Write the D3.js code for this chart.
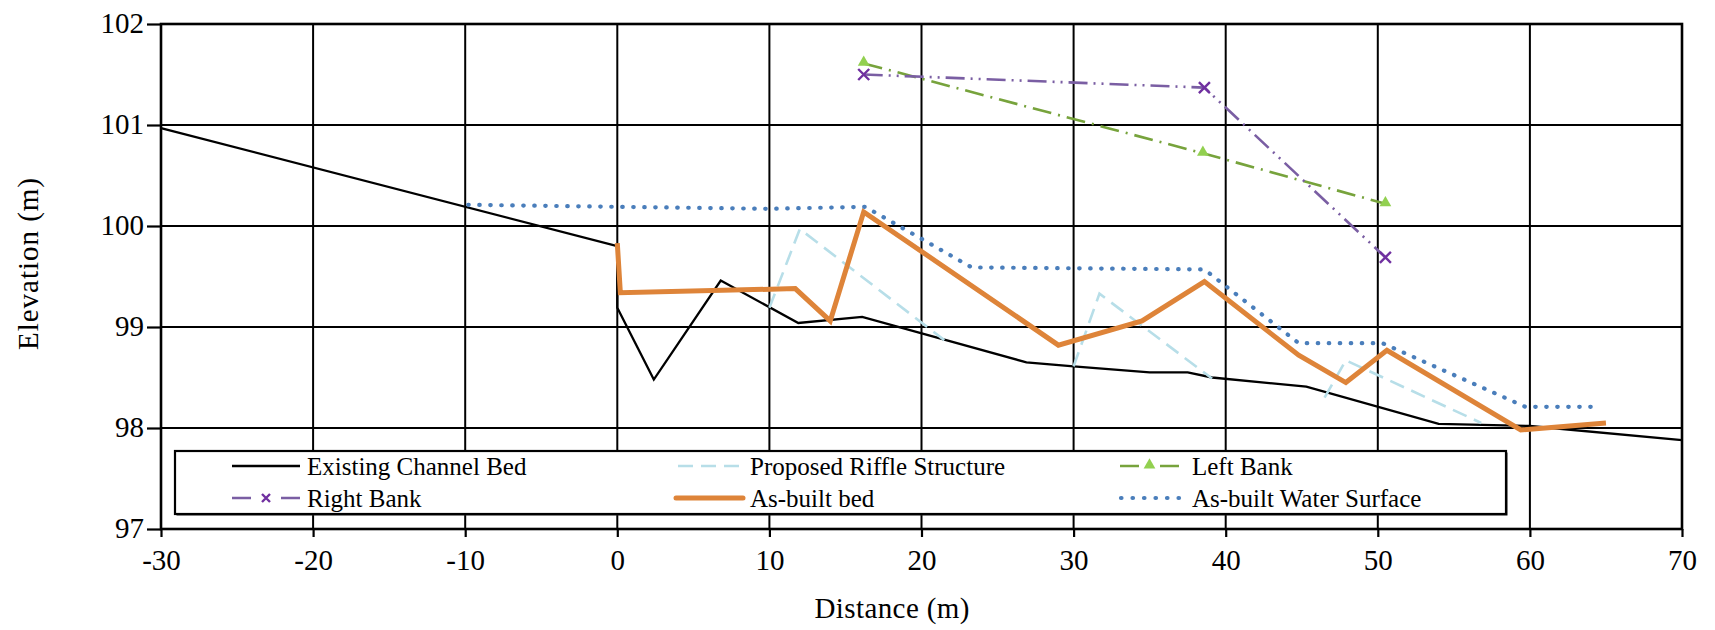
<!DOCTYPE html>
<html><head><meta charset="utf-8">
<script src="https://cdn.jsdelivr.net/npm/d3@7"></script>
<style>
html,body{margin:0;padding:0;background:#fff;}
text{font-family:"Liberation Serif","Times New Roman",serif;fill:#000;}
</style></head>
<body>
<svg id="chart" width="1715" height="630"></svg>
<script>
// ---- data ----
const xTicks = [-30,-20,-10,0,10,20,30,40,50,60,70];
const yTicks = [97,98,99,100,101,102];

const bedX = [-30, 0, 0, 2.4, 6.8, 11.9, 16.1, 26.9, 30, 35, 37.5, 39.1, 45.3, 54, 60, 70];
const bedY = [100.97, 99.8, 99.19, 98.48, 99.46, 99.04, 99.10, 98.65, 98.61, 98.55, 98.55, 98.50, 98.41, 98.04, 98.02, 97.88];

const riffleX = [10.0, 12.0, 21.5, null, 30.0, 31.7, 39.1, null, 46.5, 47.9, 56.8];
const riffleY = [99.19, 99.97, 98.87, null, 98.61, 99.33, 98.49, null, 98.30, 98.67, 98.05];

const leftX = [16.2, 38.5, 50.5];
const leftY = [101.61, 100.72, 100.22];

const rightX = [16.2, 38.6, 50.5];
const rightY = [101.50, 101.37, 99.69];

const asbuiltX = [0, 0.2, 11.7, 14.0, 16.2, 29.0, 34.5, 38.6, 44.8, 47.9, 50.6, 59.4, 65.0];
const asbuiltY = [99.83, 99.34, 99.38, 99.06, 100.14, 98.82, 99.06, 99.45, 98.72, 98.45, 98.77, 97.98, 98.05];

const waterX = [-9.8, 0, 10, 16.3, 23.3, 38.6, 44.8, 50.3, 59.7, 64.6];
const waterY = [100.21, 100.19, 100.17, 100.19, 99.59, 99.57, 98.84, 98.84, 98.21, 98.21];

const legendLabels = ["Existing Channel Bed","Proposed Riffle Structure","Left Bank","Right Bank","As-built bed","As-built Water Surface"];

// ---- layout ----
const svg = d3.select("#chart");
const L = 161, R = 1682, T = 24, B = 529;
const x = d3.scaleLinear().domain([-30,70]).range([L,R]);
const y = d3.scaleLinear().domain([97,102]).range([B,T]);

const zip = (xs, ys) => xs.map((v,i)=>({x:v, y:ys[i]}));
const line = d3.line().defined(d=>d.x!==null && d.y!==null).x(d=>x(d.x)).y(d=>y(d.y));

// grid
const g = svg.append("g");
g.selectAll(".vg").data(xTicks).join("line")
  .attr("x1",d=>x(d)).attr("x2",d=>x(d)).attr("y1",T).attr("y2",B)
  .attr("stroke","#000").attr("stroke-width",2);
g.selectAll(".hg").data(yTicks).join("line")
  .attr("x1",L).attr("x2",R).attr("y1",d=>y(d)).attr("y2",d=>y(d))
  .attr("stroke","#000").attr("stroke-width",2);
g.append("rect").attr("x",L).attr("y",T).attr("width",R-L).attr("height",B-T)
  .attr("fill","none").attr("stroke","#000").attr("stroke-width",2.6);

// axes with d3
const xAxis = d3.axisBottom(x).tickValues(xTicks).tickSize(8).tickFormat(d=>String(d));
const yAxis = d3.axisLeft(y).tickValues(yTicks).tickSize(14).tickFormat(d=>String(d));
const gx = svg.append("g").attr("transform",`translate(0,${B})`).call(xAxis);
const gy = svg.append("g").attr("transform",`translate(${L},0)`).call(yAxis);
[gx,gy].forEach(a=>{
  a.select(".domain").remove();
  a.selectAll(".tick line").attr("stroke","#000").attr("stroke-width",2.2);
  a.selectAll(".tick text").style("font-family","Liberation Serif").style("font-size","29px").attr("fill","#000");
});
gx.selectAll(".tick text").attr("y",20).attr("dy","0.71em");
gy.selectAll(".tick text").attr("x",-17).attr("dy","0.28em");

// series
const plot = svg.append("g");
plot.append("path").attr("d",line(zip(bedX,bedY))).attr("fill","none")
  .attr("stroke","#000").attr("stroke-width",2.3).attr("stroke-linejoin","miter");
plot.append("path").attr("d",line(zip(riffleX,riffleY))).attr("fill","none")
  .attr("stroke","#b7dee8").attr("stroke-width",2.6).attr("stroke-dasharray","15 8");
plot.append("path").attr("d",line(zip(leftX,leftY))).attr("fill","none")
  .attr("stroke","#77a33c").attr("stroke-width",2.6).attr("stroke-dasharray","19 7 2 7");
plot.append("path").attr("d",line(zip(rightX,rightY))).attr("fill","none")
  .attr("stroke","#7a5ea3").attr("stroke-width",2.6).attr("stroke-dasharray","19 6 2 6 2 6");
plot.append("path").attr("d",line(zip(asbuiltX,asbuiltY))).attr("fill","none")
  .attr("stroke","#de8439").attr("stroke-width",5).attr("stroke-linejoin","miter");
plot.append("path").attr("d",line(zip(waterX,waterY))).attr("fill","none")
  .attr("stroke","#4a7ebb").attr("stroke-width",4.2).attr("stroke-linecap","round")
  .attr("stroke-dasharray","0.5 10.5");

const tri = d3.symbol().type(d3.symbolTriangle).size(60);
const crossPath = s => `M${-s},${-s}L${s},${s}M${-s},${s}L${s},${-s}`;
plot.selectAll(".lm").data(zip(leftX,leftY)).join("path")
  .attr("transform",d=>`translate(${x(d.x)},${y(d.y)-1})`).attr("d",tri()).attr("fill","#92d050");
plot.selectAll(".rm").data(zip(rightX,rightY)).join("path")
  .attr("transform",d=>`translate(${x(d.x)},${y(d.y)})`).attr("d",crossPath(5.5))
  .attr("stroke","#7030a0").attr("stroke-width",2.4).attr("fill","none");

// legend
const lg = svg.append("g");
lg.append("rect").attr("x",176.5).attr("y",452.5).attr("width",1331).attr("height",63).attr("fill","#222");
lg.append("rect").attr("x",175).attr("y",451).attr("width",1331).attr("height",63)
  .attr("fill","#fff").attr("stroke","#000").attr("stroke-width",2.2);
const cols = [{s:232,e:300,t:307},{s:676,e:743,t:750},{s:1120,e:1179,t:1192}];
const rows = [466,498];
const items = legendLabels.map((lab,i)=>({lab, c:cols[i%3], r:rows[Math.floor(i/3)], i}));
items.forEach(it=>{
  const {c,r,i} = it;
  const ln = lg.append("line").attr("x1",c.s).attr("x2",c.e).attr("y1",r).attr("y2",r).attr("fill","none");
  if(i===0) ln.attr("stroke","#000").attr("stroke-width",2.3);
  if(i===1) ln.attr("stroke","#b7dee8").attr("stroke-width",2.6).attr("stroke-dasharray","15 8").attr("x1",c.s+2);
  if(i===2){ ln.attr("stroke","#77a33c").attr("stroke-width",2.6).attr("stroke-dasharray","19 21 19");
    lg.append("path").attr("transform",`translate(${(c.s+c.e)/2},${r-1})`).attr("d",tri()).attr("fill","#92d050"); }
  if(i===3){ ln.attr("stroke","#7a5ea3").attr("stroke-width",2.6).attr("stroke-dasharray","19 30 19");
    lg.append("path").attr("transform",`translate(${(c.s+c.e)/2},${r})`).attr("d",crossPath(4))
      .attr("stroke","#7030a0").attr("stroke-width",2.4); }
  if(i===4) ln.attr("stroke","#de8439").attr("stroke-width",5).attr("stroke-linecap","round");
  if(i===5) ln.attr("stroke","#4a7ebb").attr("stroke-width",4.2).attr("stroke-linecap","round")
              .attr("stroke-dasharray","0.5 11").attr("x1",c.s+1);
  lg.append("text").attr("x",c.t).attr("y",r+8.5).style("font-size","25px").text(it.lab);
});

// axis titles
svg.append("text").attr("x",892).attr("y",618).attr("text-anchor","middle")
  .attr("textLength",155).attr("lengthAdjust","spacing")
  .style("font-size","29px").text("Distance  (m)");
svg.append("text").attr("transform","translate(38,264) rotate(-90)").attr("text-anchor","middle")
  .attr("textLength",172).attr("lengthAdjust","spacing")
  .style("font-size","29px").text("Elevation  (m)");
</script>
</body></html>
